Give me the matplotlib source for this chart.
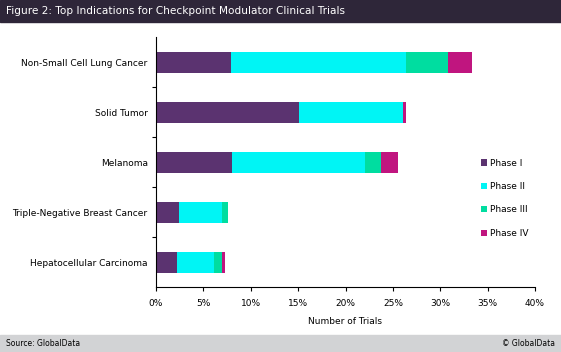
import matplotlib.pyplot as plt
from matplotlib.patches import Rectangle
import numpy

indications = ['Non-Small Cell Lung Cancer', 'Solid Tumor', 'Melanoma',
               'Triple-Negative Breast Cancer', 'Hepatocellular Carcinoma']
phase_1 = [7.9, 15.1, 8.05, 2.45, 2.2]
phase_2 = [18.5, 11.0, 14.05, 4.5, 3.95]
phase_3 = [4.45, 0.0, 1.65, 0.6, 0.85]
phase_4 = [2.45, 0.3, 1.75, 0.0, 0.3]
phases = ['Phase I', 'Phase II', 'Phase III', 'Phase IV']
colors = ['#5B3370', '#00F5F5', '#00DDA0', '#C0157F']
x_ticks = [0, 5, 10, 15, 20, 25, 30, 35, 40]

fig = plt.figure(figsize=(5.61, 3.52), dpi=100)
plt.rcParams['font.family'] = ['DejaVu Sans']

# header and footer bands
fig.patches.append(Rectangle((0, 1 - 22 / 352), 1, 22 / 352, transform=fig.transFigure,
                             color='#2E2639', zorder=0))
fig.patches.append(Rectangle((0, 0), 1, 17 / 352, transform=fig.transFigure,
                             color='#D2D3D5', zorder=0))
fig.text(6 / 561, 1 - 11 / 352, 'Figure 2: Top Indications for Checkpoint Modulator Clinical Trials',
         color='white', fontsize=7.6, va='center', ha='left')
fig.text(6 / 561, 8.5 / 352, 'Source: GlobalData', fontsize=5.5, va='center', ha='left')
fig.text(555 / 561, 8.5 / 352, '\u00a9 GlobalData', fontsize=5.5, va='center', ha='right')

ax = fig.add_axes([156 / 561, 65 / 352, 379 / 561, 250 / 352])
y = numpy.arange(len(indications))
left = numpy.zeros(len(indications))
for name, vals, c in zip(phases, [phase_1, phase_2, phase_3, phase_4], colors):
    ax.barh(y, vals, left=left, height=0.42, color=c, label=name)
    left += numpy.array(vals)

ax.set_ylim(len(indications) - 0.5, -0.5)
ax.set_xlim(0, 40)
ax.set_xticks(x_ticks)
ax.set_xticklabels(['%d%%' % t for t in x_ticks], fontsize=6.5)
ax.set_yticks(numpy.arange(len(indications) - 1) + 0.5)
ax.set_yticklabels([])
ax.set_yticks(y, minor=True)
ax.set_yticklabels(indications, minor=True, fontsize=6.5)
ax.tick_params(axis='y', which='minor', length=0, pad=6)
ax.tick_params(axis='y', which='major', length=3, direction='out')
ax.tick_params(axis='x', length=3, direction='out', pad=6)
ax.set_xlabel('Number of Trials', fontsize=6.5, labelpad=6)
for s in ['top', 'right']:
    ax.spines[s].set_visible(False)

ax.legend(loc='center left', bbox_to_anchor=(0.835, 0.355), frameon=False, fontsize=6.5,
          handlelength=0.7, handleheight=0.7, handletextpad=0.3, labelspacing=1.6)

fig.savefig('out.png', dpi=100)
